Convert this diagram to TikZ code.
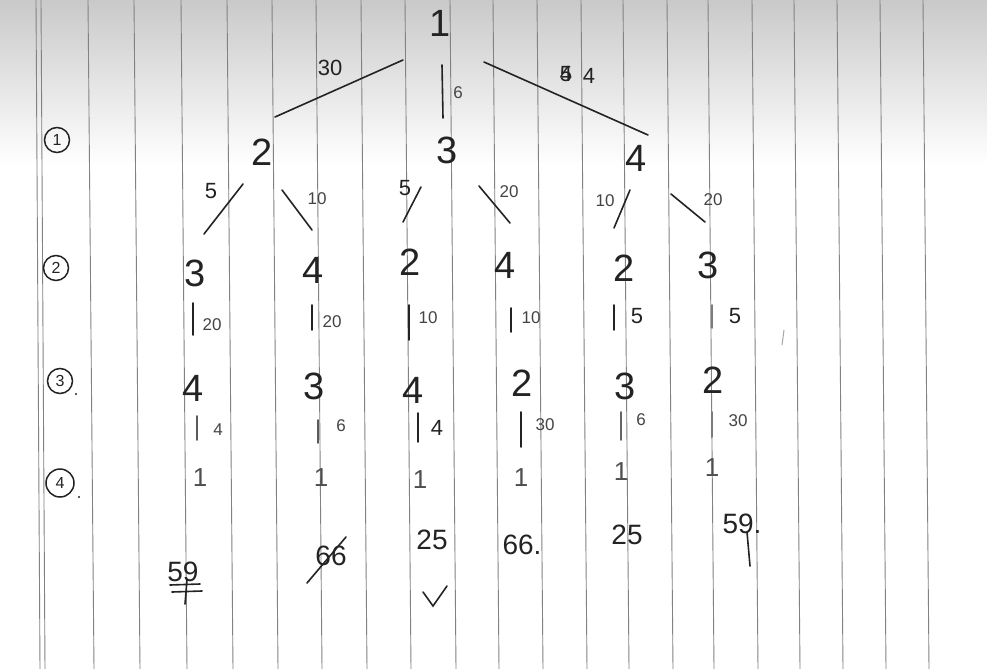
\documentclass[tikz,border=0pt]{standalone}
\usepackage{fontspec}
\setmainfont{Liberation Sans}
\usetikzlibrary{calc}
\definecolor{ink}{RGB}{35,35,35}
\definecolor{paperrule}{RGB}{130,130,130}
\begin{document}
\begin{tikzpicture}[x=1pt,y=-1pt,
  bignum/.style={font=\fontsize{38}{38}\selectfont, inner sep=0pt, text=ink},
  leafnum/.style={font=\fontsize{26}{26}\selectfont, inner sep=0pt, text=ink!80},
  costnum/.style={font=\fontsize{28}{28}\selectfont, inner sep=0pt, text=ink},
  wlabel/.style={font=\fontsize{22}{22}\selectfont, inner sep=0pt, text=ink},
  slabel/.style={font=\fontsize{17}{17}\selectfont, inner sep=0pt, text=ink!85},
  levelmark/.style={draw=ink, line width=1.5pt, circle, minimum size=25pt, inner sep=0pt,
    font=\fontsize{16}{16}\selectfont, text=ink},
  stroke/.style={draw=ink, line width=1.6pt, line cap=round},
  rulestyle/.style={draw=paperrule, line width=0.9pt}]
\useasboundingbox (0,0) rectangle (987,669);
\fill[white] (0,0) rectangle (987,669);
\shade[top color=gray!42, bottom color=white] (0,0) rectangle (987,165);
% paper rules
\foreach \x in {36,41} \draw[rulestyle] (\x,0) -- (\x+4,669);
\foreach \x in {88,134,181,227,272,316,361,405,450,493,537,581,623,667,708,752,794,837,880,923}
  \draw[rulestyle] (\x,0) -- (\x+6,669);

% level marks
\node[levelmark] (m1) at (57,140) {1};
\node[levelmark] (m2) at (56,268) {2};
\node[levelmark] (m3) at (60,381) {3};
\node[levelmark, minimum size=28pt] (m4) at (60,483) {4};
\fill[ink] (76,394) circle (1.2);
\fill[ink] (79,497) circle (1.2);

% tree nodes
\node[bignum] (r) at (440,23) {1};
\node[bignum] (a) at (262,152) {2};
\node[bignum] (b) at (447,150) {3};
\node[bignum] (c) at (636,158) {4};

\node[bignum] (aa) at (195,273) {3};
\node[bignum] (ab) at (313,270) {4};
\node[bignum] (ba) at (410,262) {2};
\node[bignum] (bb) at (505,265) {4};
\node[bignum] (ca) at (624,268) {2};
\node[bignum] (cb) at (708,265) {3};

\node[bignum] (aaa) at (193,388) {4};
\node[bignum] (aba) at (314,386) {3};
\node[bignum] (baa) at (413,390) {4};
\node[bignum] (bba) at (522,383) {2};
\node[bignum] (caa) at (625,386) {3};
\node[bignum] (cba) at (713,380) {2};

\node[leafnum] (d1) at (200,478) {1};
\node[leafnum] (d2) at (321,478) {1};
\node[leafnum] (d3) at (420,480) {1};
\node[leafnum] (d4) at (521,478) {1};
\node[leafnum] (d5) at (621,472) {1};
\node[leafnum] (d6) at (712,468) {1};

% level 0 -> 1
\draw[stroke] ($(r)+(-37,37)$) -- ($(a)+(13,-35)$);
\draw[stroke] ($(r)+(2,42)$) -- ($(b)+(-4,-32)$);
\draw[stroke] ($(r)+(44,39)$) -- ($(c)+(12,-23)$);
\node[wlabel] (l30) at (330,68) {30};
\node[slabel] (l6) at (458,93) {6};
\node[wlabel] (l4a) at (566,74) {5};
\node[wlabel] (l4b) at (566,74) {4};
\node[wlabel] (l4) at (589,76) {4};

% level 1 -> 2
\draw[stroke] ($(a)+(-19,32)$) -- ($(aa)+(9,-39)$);
\draw[stroke] ($(a)+(20,38)$) -- ($(ab)+(-1,-40)$);
\draw[stroke] ($(b)+(-26,37)$) -- ($(ba)+(-7,-40)$);
\draw[stroke] ($(b)+(32,36)$) -- ($(bb)+(5,-42)$);
\draw[stroke] ($(c)+(-6,32)$) -- ($(ca)+(-10,-40)$);
\draw[stroke] ($(c)+(35,36)$) -- ($(cb)+(-3,-43)$);
\node[wlabel] at (211,191) {5};
\node[slabel] at (317,199) {10};
\node[wlabel] at (405,188) {5};
\node[slabel] at (509,192) {20};
\node[slabel] at (605,201) {10};
\node[slabel] at (713,200) {20};

% level 2 -> 3
\draw[stroke] ($(aa)+(-2,30)$) -- ($(aaa)+(0,-53)$);
\draw[stroke] ($(ab)+(-1,35)$) -- ($(aba)+(-2,-56)$);
\draw[stroke] ($(ba)+(-1,43)$) -- ($(baa)+(-4,-50)$);
\draw[stroke] ($(bb)+(6,43)$) -- ($(bba)+(-11,-51)$);
\draw[stroke] ($(ca)+(-10,37)$) -- ($(caa)+(-11,-56)$);
\draw[stroke, draw=ink!60] ($(cb)+(4,40)$) -- ($(cba)+(-1,-52)$);
\node[slabel] at (212,325) {20};
\node[slabel] at (332,322) {20};
\node[slabel] at (428,318) {10};
\node[slabel] at (531,318) {10};
\node[wlabel] at (637,316) {5};
\node[wlabel] at (735,316) {5};

% level 3 -> 4
\draw[stroke, draw=ink!75] ($(aaa)+(4,28)$) -- ($(d1)+(-3,-38)$);
\draw[stroke, draw=ink!75] ($(aba)+(4,34)$) -- ($(d2)+(-3,-35)$);
\draw[stroke] ($(baa)+(5,23)$) -- ($(d3)+(-2,-38)$);
\draw[stroke] ($(bba)+(-1,29)$) -- ($(d4)+(0,-31)$);
\draw[stroke, draw=ink!70] ($(caa)+(-4,26)$) -- ($(d5)+(0,-32)$);
\draw[stroke, draw=ink!60] ($(cba)+(-1,32)$) -- ($(d6)+(0,-31)$);
\node[slabel] at (218,430) {4};
\node[slabel] at (341,426) {6};
\node[wlabel] at (437,428) {4};
\node[slabel] at (545,425) {30};
\node[slabel] at (641,420) {6};
\node[slabel] at (738,421) {30};

% costs
\node[costnum] (t1) at (183,572) {59};
\draw[stroke] ($(t1)+(-13,13)$) -- ($(t1)+(17,12)$);
\draw[stroke] ($(t1)+(-11,20)$) -- ($(t1)+(19,19)$);
\draw[stroke] ($(t1)+(4,8)$) -- ($(t1)+(2,32)$);
\node[costnum] (t2) at (331,556) {66};
\draw[stroke] ($(t2)+(-24,27)$) -- ($(t2)+(15,-19)$);
\node[costnum] (t3) at (432,540) {25};
\coordinate (ck1) at (423,592);
\coordinate (ck2) at (433,606);
\coordinate (ck3) at (447,586);
\draw[stroke] (ck1) -- (ck2) -- (ck3);
\node[costnum] (t4) at (522,545) {66.};
\node[costnum] (t5) at (627,535) {25};
\node[costnum] (t6) at (742,524) {59.};
\draw[stroke] ($(t6)+(5,8)$) -- ($(t6)+(8,42)$);

% stray mark
\draw[draw=ink!40, line width=1pt] (784,330) -- (782,345);
\end{tikzpicture}
\end{document}
